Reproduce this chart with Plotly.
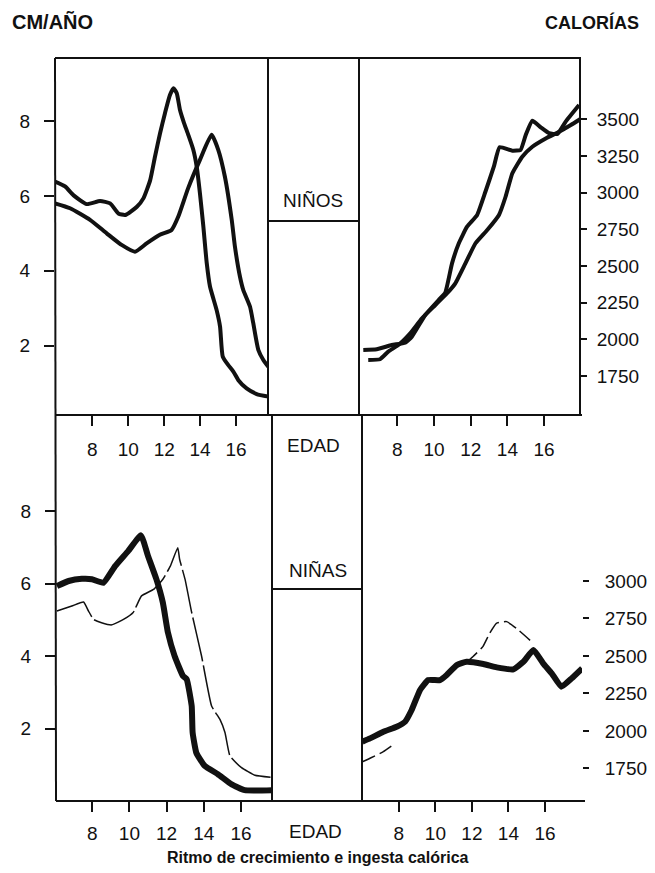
import plotly.graph_objects as go

# ---------------- data ----------------
# NIÑOS: growth rate (cm/año) vs edad
boys_growth_age_a = [5.92, 6.48, 6.94, 7.69, 8.43, 8.99, 9.45, 9.83, 10.48, 10.85, 11.22, 11.49, 11.77,
                     12.04, 12.32, 12.52, 12.7, 12.88, 13.1, 13.34, 13.62, 13.81, 13.99, 14.18, 14.37,
                     14.55, 14.92, 15.11, 15.26, 15.57, 15.85, 16.13, 16.59, 17.15, 17.8]
boys_growth_a = [6.38, 6.25, 6.02, 5.78, 5.86, 5.8, 5.53, 5.49, 5.71, 5.94, 6.42, 7.05, 7.67,
                 8.2, 8.69, 8.87, 8.74, 8.29, 7.95, 7.63, 7.23, 6.78, 6.07, 5.18, 4.2,
                 3.58, 2.95, 2.51, 1.71, 1.48, 1.31, 1.08, 0.86, 0.71, 0.64]
boys_growth_age_b = [5.92, 6.76, 7.87, 8.8, 9.63, 10.37, 11.02, 11.76, 12.41, 12.78, 13.33, 13.99,
                     14.64, 15.01, 15.38, 15.76, 15.94, 16.22, 16.4, 16.78, 16.96, 17.24, 17.52, 17.8]
boys_growth_b = [5.8, 5.67, 5.36, 5.0, 4.69, 4.51, 4.73, 4.96, 5.09, 5.44, 6.2, 6.96,
                 7.63, 7.23, 6.51, 5.36, 4.64, 3.84, 3.49, 3.04, 2.6, 1.89, 1.62, 1.44]

# NIÑOS: calorías vs edad
boys_cal_age_c = [6.14, 6.87, 7.69, 8.42, 8.79, 9.52, 10.25, 10.61, 10.98, 11.35, 11.8, 12.35,
                  12.8, 13.26, 13.57, 14.27, 14.72, 15.0, 15.36, 15.82, 16.27, 16.73, 17.18, 17.91]
boys_cal_c = [1927, 1932, 1961, 1977, 2018, 2166, 2268, 2318, 2518, 2655, 2768, 2848,
              3006, 3177, 3309, 3286, 3291, 3393, 3490, 3445, 3405, 3400, 3484, 3597]
boys_cal_age_d = [6.41, 7.05, 7.5, 8.05, 8.7, 9.34, 10.07, 10.71, 11.16, 11.71, 12.26, 12.9,
                  13.54, 13.9, 14.27, 14.81, 15.36, 16.09, 16.82, 17.46, 17.96]
boys_cal_d = [1859, 1864, 1916, 1961, 2041, 2143, 2234, 2314, 2382, 2518, 2655, 2745,
              2848, 2972, 3132, 3245, 3313, 3370, 3415, 3461, 3500]

# NIÑAS: growth rate
girls_growth_age_thick = [6.1, 6.73, 7.44, 7.98, 8.6, 9.23, 9.94, 10.62, 11.0, 11.45, 11.8, 12.07,
                          12.43, 12.88, 13.08, 13.35, 13.4, 13.6, 14.05, 14.76, 15.5, 16.2, 17.7]
girls_growth_thick = [5.93, 6.07, 6.13, 6.12, 6.02, 6.48, 6.9, 7.33, 6.76, 6.12, 5.47, 4.65,
                      4.0, 3.45, 3.36, 2.62, 1.89, 1.33, 0.97, 0.74, 0.46, 0.3, 0.3]
girls_growth_age_thin = [6.1, 6.9, 7.53, 7.8, 8.07, 8.5, 9.05, 9.68, 10.2, 10.65, 11.3, 11.8, 12.2,
                         12.6, 12.7, 12.99, 13.35, 13.88, 14.42, 14.87, 15.14, 15.41, 16.03, 16.75, 17.7]
girls_growth_thin = [5.24, 5.38, 5.49, 5.24, 5.01, 4.92, 4.86, 5.01, 5.2, 5.66, 5.84, 6.12, 6.48,
                     6.99, 6.67, 6.12, 5.2, 4.0, 2.62, 2.25, 1.89, 1.24, 0.92, 0.71, 0.65]

# NIÑAS: calorías
girls_cal_age_thick = [6.0, 6.42, 7.15, 7.88, 8.34, 8.7, 9.16, 9.61, 10.25, 10.62, 11.17, 11.71,
                       12.63, 13.36, 14.27, 14.82, 15.37, 15.9, 16.37, 16.9, 17.47, 18.04]
girls_cal_thick = [1928, 1950, 1994, 2028, 2061, 2139, 2273, 2339, 2339, 2373, 2439, 2461,
                   2446, 2424, 2411, 2461, 2539, 2451, 2384, 2295, 2351, 2417]
girls_cal_age_thin = [6.0, 6.42, 7.15, 7.6, None, 11.71, 12.05, 12.6, 12.97, 13.34, 13.9, 14.44, 15.27]
girls_cal_thin = [1794, 1817, 1861, 1899, None, 2461, 2495, 2562, 2651, 2718, 2729, 2684, 2595]

age_ticks = [8, 10, 12, 14, 16]
cm_ticks = [2, 4, 6, 8]
boys_cal_ticks = [1750, 2000, 2250, 2500, 2750, 3000, 3250, 3500]
girls_cal_ticks = [1750, 2000, 2250, 2500, 2750, 3000]

# ---------------- layout helpers ----------------
W, H = 655, 873
FONT = "Liberation Sans, Arial, Helvetica, sans-serif"
INK = "#111111"


def px(x):
    return x / W


def py(y):
    return 1 - y / H


fig = go.Figure()

# top-left
fig.add_trace(go.Scatter(x=boys_growth_age_a, y=boys_growth_a, xaxis="x", yaxis="y", mode="lines",
                         line=dict(color=INK, width=4, shape="spline", smoothing=0.5), showlegend=False))
fig.add_trace(go.Scatter(x=boys_growth_age_b, y=boys_growth_b, xaxis="x", yaxis="y", mode="lines",
                         line=dict(color=INK, width=4, shape="spline", smoothing=0.5), showlegend=False))
# top-right
fig.add_trace(go.Scatter(x=boys_cal_age_c, y=boys_cal_c, xaxis="x2", yaxis="y2", mode="lines",
                         line=dict(color=INK, width=4, shape="spline", smoothing=0.4), showlegend=False))
fig.add_trace(go.Scatter(x=boys_cal_age_d, y=boys_cal_d, xaxis="x2", yaxis="y2", mode="lines",
                         line=dict(color=INK, width=4, shape="spline", smoothing=0.4), showlegend=False))
# bottom-left
fig.add_trace(go.Scatter(x=girls_growth_age_thin, y=girls_growth_thin, xaxis="x3", yaxis="y3", mode="lines",
                         line=dict(color=INK, width=1.5, dash="45px,4px", shape="spline", smoothing=0.4),
                         showlegend=False))
fig.add_trace(go.Scatter(x=girls_growth_age_thick, y=girls_growth_thick, xaxis="x3", yaxis="y3", mode="lines",
                         line=dict(color=INK, width=6, shape="spline", smoothing=0.4), showlegend=False))
# bottom-right
fig.add_trace(go.Scatter(x=girls_cal_age_thin, y=girls_cal_thin, xaxis="x4", yaxis="y4", mode="lines",
                         line=dict(color=INK, width=1.5, dash="14px,5px", shape="spline", smoothing=0.4),
                         connectgaps=False, showlegend=False))
fig.add_trace(go.Scatter(x=girls_cal_age_thick, y=girls_cal_thick, xaxis="x4", yaxis="y4", mode="lines",
                         line=dict(color=INK, width=6, shape="spline", smoothing=0.4), showlegend=False))

common_x = dict(tickvals=age_ticks, ticks="outside", ticklen=10, tickwidth=2, tickcolor=INK,
                showline=False, showgrid=False, zeroline=False,
                tickfont=dict(family=FONT, size=19, color=INK), fixedrange=True)
common_y = dict(ticks="outside", tickwidth=2, tickcolor=INK, showline=False, showgrid=False,
                zeroline=False, tickfont=dict(family=FONT, size=19, color=INK), fixedrange=True)

TOP = (58, 415)
BOT = (415, 801)

fig.update_layout(
    width=W, height=H, autosize=False,
    margin=dict(l=0, r=0, t=0, b=0, pad=0),
    paper_bgcolor="white", plot_bgcolor="white",
    xaxis=dict(domain=[px(55), px(268)], anchor="y", range=[5.92, 17.78], ticklabelstandoff=7, **common_x),
    yaxis=dict(domain=[py(TOP[1]), py(TOP[0])], anchor="x", range=[0.15, 9.68], tickvals=cm_ticks,
               ticklen=10, ticklabelstandoff=10, **common_y),
    xaxis2=dict(domain=[px(360), px(580)], anchor="y2", range=[5.96, 17.96], ticklabelstandoff=7, **common_x),
    yaxis2=dict(domain=[py(TOP[1]), py(TOP[0])], anchor="x2", side="right", range=[1484, 3918],
                tickvals=boys_cal_ticks, ticklen=6, ticklabelstandoff=6, **common_y),
    xaxis3=dict(domain=[px(56), px(272)], anchor="y3", range=[6.05, 17.67], ticklabelstandoff=5, **common_x),
    yaxis3=dict(domain=[py(BOT[1]), py(BOT[0])], anchor="x3", range=[0, 10.65], tickvals=cm_ticks,
                ticklen=10, ticklabelstandoff=10, **common_y),
    xaxis4=dict(domain=[px(362), px(582)], anchor="y4", range=[5.98, 18.03], ticklabelstandoff=5, **common_x),
    yaxis4=dict(domain=[py(BOT[1]), py(BOT[0])], anchor="x4", side="right", range=[1532, 4108],
                tickvals=girls_cal_ticks, ticklen=6, ticklabelstandoff=12, **common_y),
)

# frame lines (pixel positions)
frame = [
    (55, 58, 581, 58),      # top border
    (55, 58, 56, 801),      # left border
    (55, 415, 582, 415),    # middle axis line
    (56, 801, 585, 801),    # bottom axis line
    (268, 58, 268, 415), (359, 58, 359, 415),   # middle column (top)
    (272, 415, 272, 801), (362, 415, 362, 801), # middle column (bottom)
    (580, 58, 580, 415),    # right border of top panel
    (268, 221, 359, 221),   # under NIÑOS
    (272, 589, 362, 589),   # under NIÑAS
]
for x0, y0, x1, y1 in frame:
    fig.add_shape(type="line", xref="paper", yref="paper", x0=px(x0), y0=py(y0), x1=px(x1), y1=py(y1),
                  line=dict(color=INK, width=2), layer="above")


def label(text, x, y, size, bold=False, anchor="center"):
    fig.add_annotation(text=f"<b>{text}</b>" if bold else text, xref="paper", yref="paper",
                       x=px(x), y=py(y), xanchor=anchor, yanchor="middle", showarrow=False,
                       font=dict(family=FONT, size=size, color=INK))


label("CM/AÑO", 10, 22, 20, bold=True, anchor="left")
label("CALORÍAS", 641, 22, 18, bold=True, anchor="right")
label("NIÑOS", 313, 201, 19)
label("EDAD", 313, 446, 19)
label("NIÑAS", 318, 570, 19)
label("EDAD", 315, 831, 19)
label("Ritmo de crecimiento e ingesta calórica", 318, 857, 16, bold=True)

fig.write_html("out.html", config={"displayModeBar": False, "staticPlot": True},
               post_script="document.body.style.margin='0';")
